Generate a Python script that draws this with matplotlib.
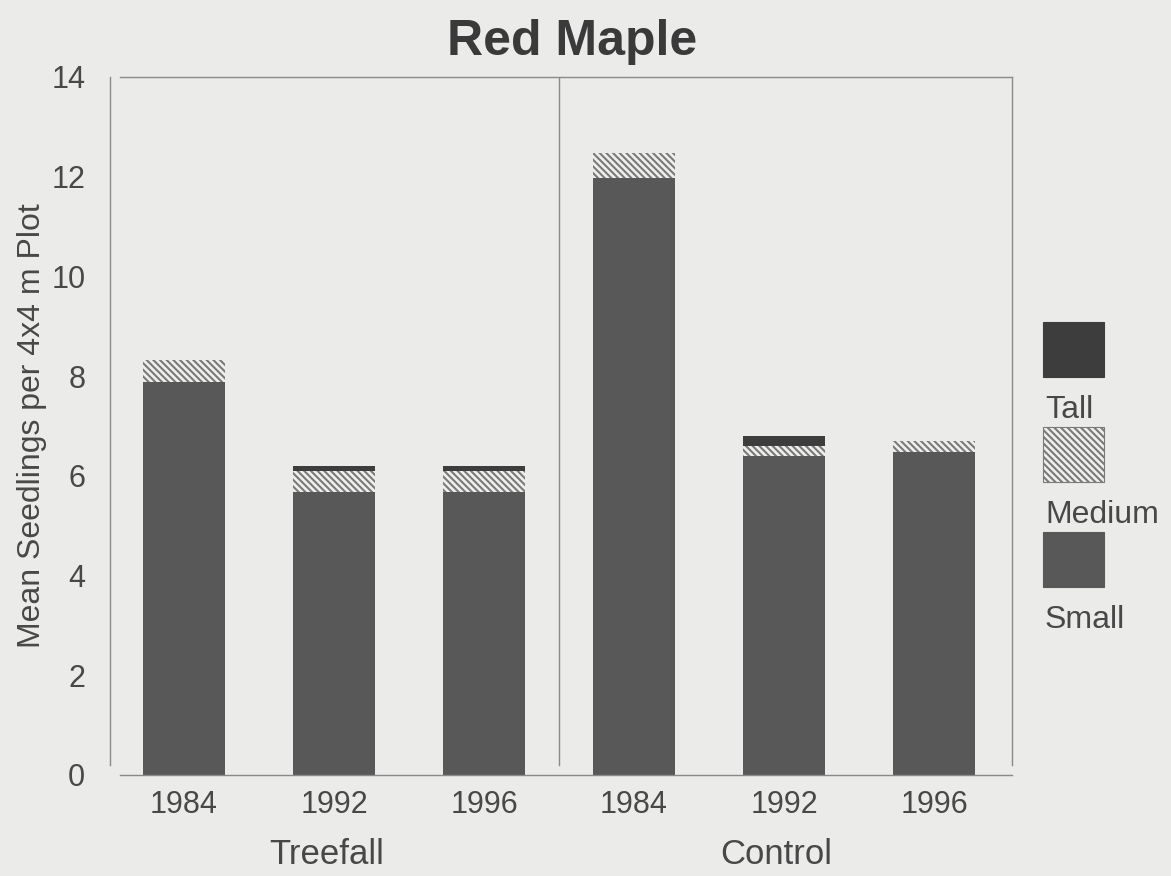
import matplotlib.pyplot as plt
from matplotlib.patches import Rectangle
import numpy as np

plt.rcParams['font.family'] = ['Liberation Sans', 'DejaVu Sans']
plt.rcParams['hatch.color'] = '#7a7a7a'
plt.rcParams['hatch.linewidth'] = 1.5

# mean seedlings per plot, by height class
years = ['1984', '1992', '1996', '1984', '1992', '1996']
groups = ['Treefall', 'Control']
small = [7.88, 5.68, 5.68, 11.97, 6.4, 6.48]
medium = [0.44, 0.42, 0.42, 0.5, 0.2, 0.22]
tall = [0.0, 0.1, 0.1, 0.0, 0.2, 0.0]

bg = '#ebebea'
c_small = '#585858'
c_tall = '#3d3d3d'
c_hatch = '#efefee'
c_line = '#8a8a8a'
c_text = '#484848'
hatch = '\\\\\\\\\\'

fig = plt.figure(figsize=(11.71, 8.76), dpi=100, facecolor=bg)
ax = fig.add_axes([120 / 1171, 1 - 775 / 876, 892 / 1171, 698 / 876])
ax.set_facecolor(bg)

x = np.arange(len(years))
w = 0.55
bot_m = np.array(small)
bot_t = bot_m + np.array(medium)
ax.bar(x, small, w, color=c_small, linewidth=0)
ax.bar(x, medium, w, bottom=bot_m, color=c_hatch, hatch=hatch, edgecolor='#7a7a7a', linewidth=0)
ax.bar(x, tall, w, bottom=bot_t, color=c_tall, linewidth=0)

ax.set_xlim(-0.427, 5.52)
ax.set_ylim(0, 14)
ax.set_yticks(range(0, 15, 2))
ax.set_xticks(x)
ax.set_xticklabels(years)
ax.tick_params(length=0, labelsize=22, colors=c_text)
ax.tick_params(axis='x', pad=11)
ax.tick_params(axis='y', pad=18)
for s in ax.spines.values():
    s.set_color(c_line)
    s.set_linewidth(1.0)
ax.spines['left'].set_position(('outward', 7))
ax.spines['left'].set_bounds(0.2, 14)
ax.spines['right'].set_bounds(0.2, 14)

# separator between the two site types
ax.plot([2.5, 2.5], [0.2, 14], color=c_line, linewidth=1.0)

ax.set_ylabel('Mean Seedlings per 4x4 m Plot', fontsize=23, color=c_text, labelpad=3)
fig.text(572 / 1171, 1 - 55 / 876, 'Red Maple', ha='center', va='baseline',
         fontsize=36, fontweight='bold', color='#3a3a3a')

for i, g in enumerate(groups):
    ax.text(1 + 3 * i - 0.05, -0.1146, g, transform=ax.get_xaxis_transform(),
            ha='center', va='center', fontsize=25, color=c_text)

# legend drawn as stacked swatches with labels beneath
leg = [('Tall', c_tall, None), ('Medium', c_hatch, hatch), ('Small', c_small, None)]
for k, (name, col, h) in enumerate(leg):
    y0 = 1 - 377 / 876 - k * 105 / 876
    fig.patches.append(Rectangle((1043 / 1171, y0), 61 / 1171, 55 / 876,
                                 transform=fig.transFigure, facecolor=col, hatch=h,
                                 edgecolor='#7a7a7a' if h else col, linewidth=0.8))
    fig.text(1045 / 1171, y0 - 33 / 876, name, ha='left', va='center',
             fontsize=23, color=c_text)

fig.savefig('out.png', dpi=100, facecolor=bg)
